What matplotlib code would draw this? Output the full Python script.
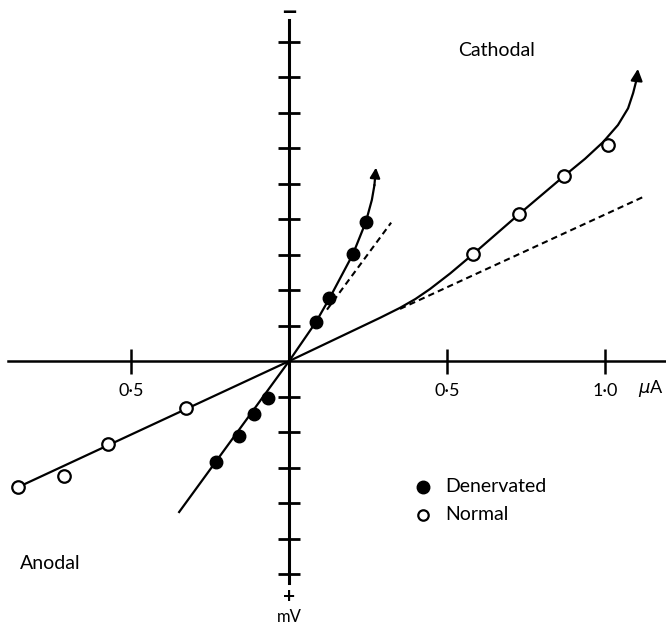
import matplotlib.pyplot as plt

# current (uA) vs membrane potential (in axis divisions)
normal_x = [-0.858, -0.712, -0.573, -0.326, 0.582, 0.728, 0.870, 1.009]
normal_y = [-3.55, -3.24, -2.34, -1.32, 3.01, 4.14, 5.21, 6.08]
dener_x = [-0.231, -0.158, -0.111, -0.066, 0.085, 0.127, 0.203, 0.244]
dener_y = [-2.85, -2.11, -1.49, -1.04, 1.10, 1.77, 3.01, 3.92]

# hand-drawn fitted curves
normal_fit_x = [-0.858, 0.0, 0.288, 0.351, 0.400, 0.446, 0.510, 0.582, 0.728, 0.870,
                0.937, 0.994, 1.041, 1.073, 1.089, 1.101, 1.104]
normal_fit_y = [-3.55, 0.0, 1.22, 1.50, 1.75, 2.03, 2.47, 3.01, 4.14, 5.21,
                5.70, 6.17, 6.65, 7.12, 7.55, 7.97, 8.23]
dener_fit_x = [-0.348, 0.0, 0.085, 0.128, 0.202, 0.243, 0.262, 0.270, 0.275]
dener_fit_y = [-4.25, 0.0, 1.10, 1.77, 3.01, 3.92, 4.54, 4.95, 5.45]

# dashed linear extrapolations
normal_dash_x = [0.351, 1.120]
normal_dash_y = [1.47, 4.62]
dener_dash_x = [0.120, 0.323]
dener_dash_y = [1.45, 3.90]

x_ticks = [-0.5, 0.5, 1.0]
x_tick_labels = ["0·5", "0·5", "1·0"]
y_ticks = [-6, -5, -4, -3, -2, -1, 1, 2, 3, 4, 5, 6, 7, 8, 9]

plt.rcParams['font.family'] = ['Lato', 'DejaVu Sans']

fig = plt.figure(figsize=(6.66, 6.26), dpi=100)
ax = fig.add_axes([0, 0, 1, 1])
ax.set_xlim(-0.915, 1.193)
ax.set_ylim(-7.46, 10.17)

# axes through the origin
ax.spines['left'].set_position(('data', 0))
ax.spines['bottom'].set_position(('data', 0))
ax.spines['right'].set_visible(False)
ax.spines['top'].set_visible(False)
ax.spines['left'].set_bounds(-6.25, 9.6)
ax.spines['bottom'].set_bounds(-0.89, 1.193)
ax.spines['left'].set_linewidth(2.2)
ax.spines['bottom'].set_linewidth(1.8)

ax.set_xticks(x_ticks)
ax.set_xticklabels(x_tick_labels)
ax.set_yticks(y_ticks)
ax.set_yticklabels([])
ax.tick_params(axis='y', direction='inout', length=16, width=2.0)
ax.tick_params(axis='x', direction='inout', length=18, width=1.8, pad=7, labelsize=13)

# fitted curves and extrapolations
ax.plot(normal_fit_x[:-1], normal_fit_y[:-1], color='black', lw=1.6, zorder=2,
        solid_joinstyle='round')
ax.plot(dener_fit_x[:-1], dener_fit_y[:-1], color='black', lw=1.6, zorder=2,
        solid_joinstyle='round')
ax.annotate("", xy=(normal_fit_x[-1], normal_fit_y[-1]),
            xytext=(normal_fit_x[-2], normal_fit_y[-2]),
            arrowprops=dict(arrowstyle='-|>,head_length=0.7,head_width=0.35',
                            color='black', lw=1.6, shrinkA=0, shrinkB=0))
ax.annotate("", xy=(dener_fit_x[-1], dener_fit_y[-1]),
            xytext=(dener_fit_x[-2], dener_fit_y[-2]),
            arrowprops=dict(arrowstyle='-|>,head_length=0.6,head_width=0.3',
                            color='black', lw=1.6, shrinkA=0, shrinkB=0))
ax.plot(normal_dash_x, normal_dash_y, color='black', lw=1.5, ls=(0, (3, 2)))
ax.plot(dener_dash_x, dener_dash_y, color='black', lw=1.5, ls=(0, (3, 2)))

# data points
ax.plot(normal_x, normal_y, 'o', ms=9, mfc='white', mec='black', mew=1.6, zorder=3)
ax.plot(dener_x, dener_y, 'o', ms=9, mfc='black', mec='black', zorder=3)

# labels
ax.text(1.103, -0.78, "$\\mu$A", fontsize=13, ha='left', va='center')
ax.text(0.0, 9.8, "−", fontsize=20, fontweight='bold', ha='center', va='center')
ax.text(0.0, -6.65, "+", fontsize=15, fontweight='bold', ha='center', va='center')
ax.text(0.0, -7.44, "mV", fontsize=12, ha='center', va='bottom')
ax.text(0.658, 8.75, "Cathodal", fontsize=14, ha='center', va='center')
ax.text(-0.756, -5.7, "Anodal", fontsize=14, ha='center', va='center')

# legend
ax.plot([0.425], [-3.54], 'o', ms=9, mfc='black', mec='black')
ax.text(0.494, -3.54, "Denervated", fontsize=14, ha='left', va='center')
ax.plot([0.425], [-4.33], 'o', ms=7.5, mfc='white', mec='black', mew=1.6)
ax.text(0.494, -4.33, "Normal", fontsize=14, ha='left', va='center')

plt.savefig("out.png", dpi=100)
